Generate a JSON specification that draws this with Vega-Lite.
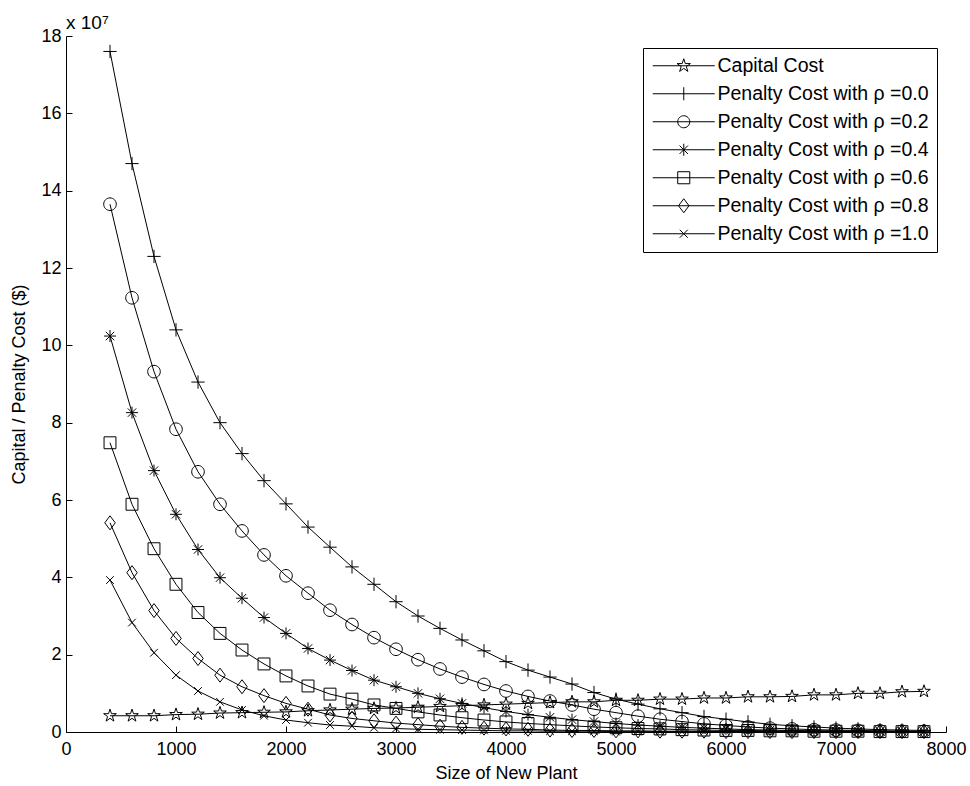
{
"$schema": "https://vega.github.io/schema/vega-lite/v6.json",
"width": 880, "height": 696,
"autosize": "none",
"padding": {"left": 66, "top": 36, "right": 24, "bottom": 54},
"background": "white",
"title": {"text": "x 10⁷", "anchor": "start", "frame": "group", "font": "Liberation Sans", "fontSize": 19, "fontWeight": "normal", "color": "black", "offset": 6, "dy": 12},
"config": {
  "view": {"stroke": null},
  "font": "Liberation Sans",
  "axis": {"domainColor": "black", "domainWidth": 1, "tickColor": "black", "tickWidth": 1, "tickSize": -6, "labelColor": "black", "labelFont": "Liberation Sans", "labelFontSize": 18, "titleFont": "Liberation Sans", "titleFontSize": 18, "titleFontWeight": "normal", "titleColor": "black", "grid": false, "labelFlush": false, "labelOverlap": false}
},
"datasets": {"d": [
{"series":"Capital Cost","size":400,"cost":0.42},{"series":"Capital Cost","size":600,"cost":0.42},{"series":"Capital Cost","size":800,"cost":0.42},{"series":"Capital Cost","size":1000,"cost":0.45},{"series":"Capital Cost","size":1200,"cost":0.46},{"series":"Capital Cost","size":1400,"cost":0.49},{"series":"Capital Cost","size":1600,"cost":0.5},{"series":"Capital Cost","size":1800,"cost":0.51},{"series":"Capital Cost","size":2000,"cost":0.52},{"series":"Capital Cost","size":2200,"cost":0.55},{"series":"Capital Cost","size":2400,"cost":0.57},{"series":"Capital Cost","size":2600,"cost":0.59},{"series":"Capital Cost","size":2800,"cost":0.61},{"series":"Capital Cost","size":3000,"cost":0.62},{"series":"Capital Cost","size":3200,"cost":0.64},{"series":"Capital Cost","size":3400,"cost":0.66},{"series":"Capital Cost","size":3600,"cost":0.68},{"series":"Capital Cost","size":3800,"cost":0.7},{"series":"Capital Cost","size":4000,"cost":0.72},{"series":"Capital Cost","size":4200,"cost":0.74},{"series":"Capital Cost","size":4400,"cost":0.76},{"series":"Capital Cost","size":4600,"cost":0.78},{"series":"Capital Cost","size":4800,"cost":0.78},{"series":"Capital Cost","size":5000,"cost":0.82},{"series":"Capital Cost","size":5200,"cost":0.82},{"series":"Capital Cost","size":5400,"cost":0.85},{"series":"Capital Cost","size":5600,"cost":0.85},{"series":"Capital Cost","size":5800,"cost":0.88},{"series":"Capital Cost","size":6000,"cost":0.88},{"series":"Capital Cost","size":6200,"cost":0.91},{"series":"Capital Cost","size":6400,"cost":0.91},{"series":"Capital Cost","size":6600,"cost":0.92},{"series":"Capital Cost","size":6800,"cost":0.96},{"series":"Capital Cost","size":7000,"cost":0.96},{"series":"Capital Cost","size":7200,"cost":1.0},{"series":"Capital Cost","size":7400,"cost":1.0},{"series":"Capital Cost","size":7600,"cost":1.04},{"series":"Capital Cost","size":7800,"cost":1.05},
{"series":"Penalty Cost with ρ =0.0","size":400,"cost":17.6},{"series":"Penalty Cost with ρ =0.0","size":600,"cost":14.7},{"series":"Penalty Cost with ρ =0.0","size":800,"cost":12.3},{"series":"Penalty Cost with ρ =0.0","size":1000,"cost":10.4},{"series":"Penalty Cost with ρ =0.0","size":1200,"cost":9.05},{"series":"Penalty Cost with ρ =0.0","size":1400,"cost":8.0},{"series":"Penalty Cost with ρ =0.0","size":1600,"cost":7.2},{"series":"Penalty Cost with ρ =0.0","size":1800,"cost":6.5},{"series":"Penalty Cost with ρ =0.0","size":2000,"cost":5.9},{"series":"Penalty Cost with ρ =0.0","size":2200,"cost":5.3},{"series":"Penalty Cost with ρ =0.0","size":2400,"cost":4.78},{"series":"Penalty Cost with ρ =0.0","size":2600,"cost":4.27},{"series":"Penalty Cost with ρ =0.0","size":2800,"cost":3.82},{"series":"Penalty Cost with ρ =0.0","size":3000,"cost":3.37},{"series":"Penalty Cost with ρ =0.0","size":3200,"cost":3.0},{"series":"Penalty Cost with ρ =0.0","size":3400,"cost":2.68},{"series":"Penalty Cost with ρ =0.0","size":3600,"cost":2.38},{"series":"Penalty Cost with ρ =0.0","size":3800,"cost":2.1},{"series":"Penalty Cost with ρ =0.0","size":4000,"cost":1.82},{"series":"Penalty Cost with ρ =0.0","size":4200,"cost":1.6},{"series":"Penalty Cost with ρ =0.0","size":4400,"cost":1.42},{"series":"Penalty Cost with ρ =0.0","size":4600,"cost":1.24},{"series":"Penalty Cost with ρ =0.0","size":4800,"cost":1.02},{"series":"Penalty Cost with ρ =0.0","size":5000,"cost":0.85},{"series":"Penalty Cost with ρ =0.0","size":5200,"cost":0.72},{"series":"Penalty Cost with ρ =0.0","size":5400,"cost":0.6},{"series":"Penalty Cost with ρ =0.0","size":5600,"cost":0.5},{"series":"Penalty Cost with ρ =0.0","size":5800,"cost":0.4},{"series":"Penalty Cost with ρ =0.0","size":6000,"cost":0.33},{"series":"Penalty Cost with ρ =0.0","size":6200,"cost":0.26},{"series":"Penalty Cost with ρ =0.0","size":6400,"cost":0.2},{"series":"Penalty Cost with ρ =0.0","size":6600,"cost":0.16},{"series":"Penalty Cost with ρ =0.0","size":6800,"cost":0.13},{"series":"Penalty Cost with ρ =0.0","size":7000,"cost":0.1},{"series":"Penalty Cost with ρ =0.0","size":7200,"cost":0.08},{"series":"Penalty Cost with ρ =0.0","size":7400,"cost":0.06},{"series":"Penalty Cost with ρ =0.0","size":7600,"cost":0.05},{"series":"Penalty Cost with ρ =0.0","size":7800,"cost":0.04},
{"series":"Penalty Cost with ρ =0.2","size":400,"cost":13.65},{"series":"Penalty Cost with ρ =0.2","size":600,"cost":11.23},{"series":"Penalty Cost with ρ =0.2","size":800,"cost":9.32},{"series":"Penalty Cost with ρ =0.2","size":1000,"cost":7.83},{"series":"Penalty Cost with ρ =0.2","size":1200,"cost":6.73},{"series":"Penalty Cost with ρ =0.2","size":1400,"cost":5.89},{"series":"Penalty Cost with ρ =0.2","size":1600,"cost":5.2},{"series":"Penalty Cost with ρ =0.2","size":1800,"cost":4.58},{"series":"Penalty Cost with ρ =0.2","size":2000,"cost":4.04},{"series":"Penalty Cost with ρ =0.2","size":2200,"cost":3.59},{"series":"Penalty Cost with ρ =0.2","size":2400,"cost":3.15},{"series":"Penalty Cost with ρ =0.2","size":2600,"cost":2.78},{"series":"Penalty Cost with ρ =0.2","size":2800,"cost":2.44},{"series":"Penalty Cost with ρ =0.2","size":3000,"cost":2.14},{"series":"Penalty Cost with ρ =0.2","size":3200,"cost":1.87},{"series":"Penalty Cost with ρ =0.2","size":3400,"cost":1.63},{"series":"Penalty Cost with ρ =0.2","size":3600,"cost":1.42},{"series":"Penalty Cost with ρ =0.2","size":3800,"cost":1.23},{"series":"Penalty Cost with ρ =0.2","size":4000,"cost":1.06},{"series":"Penalty Cost with ρ =0.2","size":4200,"cost":0.92},{"series":"Penalty Cost with ρ =0.2","size":4400,"cost":0.8},{"series":"Penalty Cost with ρ =0.2","size":4600,"cost":0.7},{"series":"Penalty Cost with ρ =0.2","size":4800,"cost":0.59},{"series":"Penalty Cost with ρ =0.2","size":5000,"cost":0.5},{"series":"Penalty Cost with ρ =0.2","size":5200,"cost":0.41},{"series":"Penalty Cost with ρ =0.2","size":5400,"cost":0.33},{"series":"Penalty Cost with ρ =0.2","size":5600,"cost":0.27},{"series":"Penalty Cost with ρ =0.2","size":5800,"cost":0.21},{"series":"Penalty Cost with ρ =0.2","size":6000,"cost":0.17},{"series":"Penalty Cost with ρ =0.2","size":6200,"cost":0.13},{"series":"Penalty Cost with ρ =0.2","size":6400,"cost":0.1},{"series":"Penalty Cost with ρ =0.2","size":6600,"cost":0.08},{"series":"Penalty Cost with ρ =0.2","size":6800,"cost":0.06},{"series":"Penalty Cost with ρ =0.2","size":7000,"cost":0.05},{"series":"Penalty Cost with ρ =0.2","size":7200,"cost":0.04},{"series":"Penalty Cost with ρ =0.2","size":7400,"cost":0.03},{"series":"Penalty Cost with ρ =0.2","size":7600,"cost":0.02},{"series":"Penalty Cost with ρ =0.2","size":7800,"cost":0.02},
{"series":"Penalty Cost with ρ =0.4","size":400,"cost":10.24},{"series":"Penalty Cost with ρ =0.4","size":600,"cost":8.26},{"series":"Penalty Cost with ρ =0.4","size":800,"cost":6.76},{"series":"Penalty Cost with ρ =0.4","size":1000,"cost":5.63},{"series":"Penalty Cost with ρ =0.4","size":1200,"cost":4.72},{"series":"Penalty Cost with ρ =0.4","size":1400,"cost":3.99},{"series":"Penalty Cost with ρ =0.4","size":1600,"cost":3.46},{"series":"Penalty Cost with ρ =0.4","size":1800,"cost":2.96},{"series":"Penalty Cost with ρ =0.4","size":2000,"cost":2.55},{"series":"Penalty Cost with ρ =0.4","size":2200,"cost":2.16},{"series":"Penalty Cost with ρ =0.4","size":2400,"cost":1.86},{"series":"Penalty Cost with ρ =0.4","size":2600,"cost":1.59},{"series":"Penalty Cost with ρ =0.4","size":2800,"cost":1.34},{"series":"Penalty Cost with ρ =0.4","size":3000,"cost":1.17},{"series":"Penalty Cost with ρ =0.4","size":3200,"cost":1.0},{"series":"Penalty Cost with ρ =0.4","size":3400,"cost":0.86},{"series":"Penalty Cost with ρ =0.4","size":3600,"cost":0.74},{"series":"Penalty Cost with ρ =0.4","size":3800,"cost":0.63},{"series":"Penalty Cost with ρ =0.4","size":4000,"cost":0.53},{"series":"Penalty Cost with ρ =0.4","size":4200,"cost":0.45},{"series":"Penalty Cost with ρ =0.4","size":4400,"cost":0.38},{"series":"Penalty Cost with ρ =0.4","size":4600,"cost":0.32},{"series":"Penalty Cost with ρ =0.4","size":4800,"cost":0.27},{"series":"Penalty Cost with ρ =0.4","size":5000,"cost":0.22},{"series":"Penalty Cost with ρ =0.4","size":5200,"cost":0.18},{"series":"Penalty Cost with ρ =0.4","size":5400,"cost":0.15},{"series":"Penalty Cost with ρ =0.4","size":5600,"cost":0.12},{"series":"Penalty Cost with ρ =0.4","size":5800,"cost":0.1},{"series":"Penalty Cost with ρ =0.4","size":6000,"cost":0.08},{"series":"Penalty Cost with ρ =0.4","size":6200,"cost":0.06},{"series":"Penalty Cost with ρ =0.4","size":6400,"cost":0.05},{"series":"Penalty Cost with ρ =0.4","size":6600,"cost":0.04},{"series":"Penalty Cost with ρ =0.4","size":6800,"cost":0.03},{"series":"Penalty Cost with ρ =0.4","size":7000,"cost":0.03},{"series":"Penalty Cost with ρ =0.4","size":7200,"cost":0.02},{"series":"Penalty Cost with ρ =0.4","size":7400,"cost":0.02},{"series":"Penalty Cost with ρ =0.4","size":7600,"cost":0.02},{"series":"Penalty Cost with ρ =0.4","size":7800,"cost":0.01},
{"series":"Penalty Cost with ρ =0.6","size":400,"cost":7.48},{"series":"Penalty Cost with ρ =0.6","size":600,"cost":5.89},{"series":"Penalty Cost with ρ =0.6","size":800,"cost":4.74},{"series":"Penalty Cost with ρ =0.6","size":1000,"cost":3.82},{"series":"Penalty Cost with ρ =0.6","size":1200,"cost":3.09},{"series":"Penalty Cost with ρ =0.6","size":1400,"cost":2.55},{"series":"Penalty Cost with ρ =0.6","size":1600,"cost":2.12},{"series":"Penalty Cost with ρ =0.6","size":1800,"cost":1.76},{"series":"Penalty Cost with ρ =0.6","size":2000,"cost":1.45},{"series":"Penalty Cost with ρ =0.6","size":2200,"cost":1.19},{"series":"Penalty Cost with ρ =0.6","size":2400,"cost":0.98},{"series":"Penalty Cost with ρ =0.6","size":2600,"cost":0.85},{"series":"Penalty Cost with ρ =0.6","size":2800,"cost":0.7},{"series":"Penalty Cost with ρ =0.6","size":3000,"cost":0.61},{"series":"Penalty Cost with ρ =0.6","size":3200,"cost":0.52},{"series":"Penalty Cost with ρ =0.6","size":3400,"cost":0.44},{"series":"Penalty Cost with ρ =0.6","size":3600,"cost":0.37},{"series":"Penalty Cost with ρ =0.6","size":3800,"cost":0.31},{"series":"Penalty Cost with ρ =0.6","size":4000,"cost":0.26},{"series":"Penalty Cost with ρ =0.6","size":4200,"cost":0.22},{"series":"Penalty Cost with ρ =0.6","size":4400,"cost":0.19},{"series":"Penalty Cost with ρ =0.6","size":4600,"cost":0.16},{"series":"Penalty Cost with ρ =0.6","size":4800,"cost":0.13},{"series":"Penalty Cost with ρ =0.6","size":5000,"cost":0.11},{"series":"Penalty Cost with ρ =0.6","size":5200,"cost":0.09},{"series":"Penalty Cost with ρ =0.6","size":5400,"cost":0.08},{"series":"Penalty Cost with ρ =0.6","size":5600,"cost":0.06},{"series":"Penalty Cost with ρ =0.6","size":5800,"cost":0.05},{"series":"Penalty Cost with ρ =0.6","size":6000,"cost":0.04},{"series":"Penalty Cost with ρ =0.6","size":6200,"cost":0.04},{"series":"Penalty Cost with ρ =0.6","size":6400,"cost":0.03},{"series":"Penalty Cost with ρ =0.6","size":6600,"cost":0.03},{"series":"Penalty Cost with ρ =0.6","size":6800,"cost":0.02},{"series":"Penalty Cost with ρ =0.6","size":7000,"cost":0.02},{"series":"Penalty Cost with ρ =0.6","size":7200,"cost":0.02},{"series":"Penalty Cost with ρ =0.6","size":7400,"cost":0.01},{"series":"Penalty Cost with ρ =0.6","size":7600,"cost":0.01},{"series":"Penalty Cost with ρ =0.6","size":7800,"cost":0.01},
{"series":"Penalty Cost with ρ =0.8","size":400,"cost":5.41},{"series":"Penalty Cost with ρ =0.8","size":600,"cost":4.12},{"series":"Penalty Cost with ρ =0.8","size":800,"cost":3.14},{"series":"Penalty Cost with ρ =0.8","size":1000,"cost":2.42},{"series":"Penalty Cost with ρ =0.8","size":1200,"cost":1.9},{"series":"Penalty Cost with ρ =0.8","size":1400,"cost":1.47},{"series":"Penalty Cost with ρ =0.8","size":1600,"cost":1.17},{"series":"Penalty Cost with ρ =0.8","size":1800,"cost":0.94},{"series":"Penalty Cost with ρ =0.8","size":2000,"cost":0.74},{"series":"Penalty Cost with ρ =0.8","size":2200,"cost":0.59},{"series":"Penalty Cost with ρ =0.8","size":2400,"cost":0.44},{"series":"Penalty Cost with ρ =0.8","size":2600,"cost":0.35},{"series":"Penalty Cost with ρ =0.8","size":2800,"cost":0.29},{"series":"Penalty Cost with ρ =0.8","size":3000,"cost":0.23},{"series":"Penalty Cost with ρ =0.8","size":3200,"cost":0.19},{"series":"Penalty Cost with ρ =0.8","size":3400,"cost":0.15},{"series":"Penalty Cost with ρ =0.8","size":3600,"cost":0.12},{"series":"Penalty Cost with ρ =0.8","size":3800,"cost":0.1},{"series":"Penalty Cost with ρ =0.8","size":4000,"cost":0.08},{"series":"Penalty Cost with ρ =0.8","size":4200,"cost":0.07},{"series":"Penalty Cost with ρ =0.8","size":4400,"cost":0.05},{"series":"Penalty Cost with ρ =0.8","size":4600,"cost":0.04},{"series":"Penalty Cost with ρ =0.8","size":4800,"cost":0.04},{"series":"Penalty Cost with ρ =0.8","size":5000,"cost":0.03},{"series":"Penalty Cost with ρ =0.8","size":5200,"cost":0.03},{"series":"Penalty Cost with ρ =0.8","size":5400,"cost":0.02},{"series":"Penalty Cost with ρ =0.8","size":5600,"cost":0.02},{"series":"Penalty Cost with ρ =0.8","size":5800,"cost":0.02},{"series":"Penalty Cost with ρ =0.8","size":6000,"cost":0.01},{"series":"Penalty Cost with ρ =0.8","size":6200,"cost":0.01},{"series":"Penalty Cost with ρ =0.8","size":6400,"cost":0.01},{"series":"Penalty Cost with ρ =0.8","size":6600,"cost":0.01},{"series":"Penalty Cost with ρ =0.8","size":6800,"cost":0.01},{"series":"Penalty Cost with ρ =0.8","size":7000,"cost":0.01},{"series":"Penalty Cost with ρ =0.8","size":7200,"cost":0.01},{"series":"Penalty Cost with ρ =0.8","size":7400,"cost":0.01},{"series":"Penalty Cost with ρ =0.8","size":7600,"cost":0.01},{"series":"Penalty Cost with ρ =0.8","size":7800,"cost":0.01},
{"series":"Penalty Cost with ρ =1.0","size":400,"cost":3.93},{"series":"Penalty Cost with ρ =1.0","size":600,"cost":2.83},{"series":"Penalty Cost with ρ =1.0","size":800,"cost":2.05},{"series":"Penalty Cost with ρ =1.0","size":1000,"cost":1.47},{"series":"Penalty Cost with ρ =1.0","size":1200,"cost":1.06},{"series":"Penalty Cost with ρ =1.0","size":1400,"cost":0.78},{"series":"Penalty Cost with ρ =1.0","size":1600,"cost":0.57},{"series":"Penalty Cost with ρ =1.0","size":1800,"cost":0.42},{"series":"Penalty Cost with ρ =1.0","size":2000,"cost":0.31},{"series":"Penalty Cost with ρ =1.0","size":2200,"cost":0.24},{"series":"Penalty Cost with ρ =1.0","size":2400,"cost":0.18},{"series":"Penalty Cost with ρ =1.0","size":2600,"cost":0.15},{"series":"Penalty Cost with ρ =1.0","size":2800,"cost":0.11},{"series":"Penalty Cost with ρ =1.0","size":3000,"cost":0.09},{"series":"Penalty Cost with ρ =1.0","size":3200,"cost":0.07},{"series":"Penalty Cost with ρ =1.0","size":3400,"cost":0.06},{"series":"Penalty Cost with ρ =1.0","size":3600,"cost":0.05},{"series":"Penalty Cost with ρ =1.0","size":3800,"cost":0.04},{"series":"Penalty Cost with ρ =1.0","size":4000,"cost":0.03},{"series":"Penalty Cost with ρ =1.0","size":4200,"cost":0.03},{"series":"Penalty Cost with ρ =1.0","size":4400,"cost":0.02},{"series":"Penalty Cost with ρ =1.0","size":4600,"cost":0.02},{"series":"Penalty Cost with ρ =1.0","size":4800,"cost":0.02},{"series":"Penalty Cost with ρ =1.0","size":5000,"cost":0.01},{"series":"Penalty Cost with ρ =1.0","size":5200,"cost":0.01},{"series":"Penalty Cost with ρ =1.0","size":5400,"cost":0.01},{"series":"Penalty Cost with ρ =1.0","size":5600,"cost":0.01},{"series":"Penalty Cost with ρ =1.0","size":5800,"cost":0.01},{"series":"Penalty Cost with ρ =1.0","size":6000,"cost":0.01},{"series":"Penalty Cost with ρ =1.0","size":6200,"cost":0.01},{"series":"Penalty Cost with ρ =1.0","size":6400,"cost":0.01},{"series":"Penalty Cost with ρ =1.0","size":6600,"cost":0.01},{"series":"Penalty Cost with ρ =1.0","size":6800,"cost":0.01},{"series":"Penalty Cost with ρ =1.0","size":7000,"cost":0.01},{"series":"Penalty Cost with ρ =1.0","size":7200,"cost":0.01},{"series":"Penalty Cost with ρ =1.0","size":7400,"cost":0.01},{"series":"Penalty Cost with ρ =1.0","size":7600,"cost":0.01},{"series":"Penalty Cost with ρ =1.0","size":7800,"cost":0.01}
]},
"data": {"name": "d"},
"encoding": {
  "x": {"field": "size", "type": "quantitative", "scale": {"domain": [0, 8000], "nice": false, "zero": false},
        "axis": {"values": [0,1000,2000,3000,4000,5000,6000,7000,8000], "format": "d", "title": "Size of New Plant", "labelPadding": 14, "titlePadding": 6}},
  "y": {"field": "cost", "type": "quantitative", "scale": {"domain": [0, 18], "nice": false},
        "axis": {"values": [0,2,4,6,8,10,12,14,16,18], "title": "Capital / Penalty Cost ($)", "labelPadding": 11, "titlePadding": 12}}
},
"resolve": {"scale": {"shape": "independent"}},
"layer": [
  {"mark": {"type": "line", "color": "black", "strokeWidth": 1},
   "encoding": {"detail": {"field": "series", "type": "nominal"}}},
  {"mark": {"type": "point", "filled": false, "color": "black", "strokeWidth": 1, "size": 196, "opacity": 1},
   "encoding": {"shape": {"field": "series", "type": "nominal", "legend": null,
     "scale": {"domain": ["Capital Cost","Penalty Cost with ρ =0.0","Penalty Cost with ρ =0.2","Penalty Cost with ρ =0.4","Penalty Cost with ρ =0.6","Penalty Cost with ρ =0.8","Penalty Cost with ρ =1.0"],
               "range": ["M0,-0.95L0.213,-0.294L0.904,-0.294L0.345,0.112L0.558,0.769L0,0.363L-0.558,0.769L-0.345,0.112L-0.904,-0.294L-0.213,-0.294Z",
                         "M-0.95,0H0.95M0,-0.95V0.95",
                         "M0.9,0A0.9,0.9 0 1,1 -0.9,0A0.9,0.9 0 1,1 0.9,0Z",
                         "M-0.85,0H0.85M0,-0.85V0.85M-0.6,-0.6L0.6,0.6M-0.6,0.6L0.6,-0.6",
                         "M-0.85,-0.85H0.85V0.85H-0.85Z",
                         "M0,-1L0.75,0L0,1L-0.75,0Z",
                         "M-0.55,-0.55L0.55,0.55M-0.55,0.55L0.55,-0.55"]}}}},
  {"mark": {"type": "point", "filled": false, "color": "black", "strokeWidth": 1, "size": 0},
   "encoding": {"shape": {"field": "series", "type": "nominal",
     "scale": {"domain": ["Capital Cost","Penalty Cost with ρ =0.0","Penalty Cost with ρ =0.2","Penalty Cost with ρ =0.4","Penalty Cost with ρ =0.6","Penalty Cost with ρ =0.8","Penalty Cost with ρ =1.0"],
               "range": ["M-4.43,0H4.43M0,-1L0.225,-0.309L0.951,-0.309L0.363,0.118L0.588,0.809L0,0.382L-0.588,0.809L-0.363,0.118L-0.951,-0.309L-0.225,-0.309Z",
                         "M-4.43,0H4.43M0,-0.93V0.93",
                         "M-4.43,0H4.43M0.86,0A0.86,0.86 0 1,1 -0.86,0A0.86,0.86 0 1,1 0.86,0",
                         "M-4.43,0H4.43M0,-0.86V0.86M-0.6,-0.6L0.6,0.6M-0.6,0.6L0.6,-0.6",
                         "M-4.43,0H4.43M-0.86,-0.86H0.86V0.86H-0.86Z",
                         "M-4.43,0H4.43M0,-1L0.75,0L0,1L-0.75,0Z",
                         "M-4.43,0H4.43M-0.57,-0.57L0.57,0.57M-0.57,0.57L0.57,-0.57"]},
     "legend": {"title": null, "orient": "none", "legendX": 577, "legendY": 12, "strokeColor": "black", "fillColor": "white", "padding": 8,
       "symbolSize": 196, "symbolOffset": 23, "symbolStrokeWidth": 1, "symbolStrokeColor": "black", "symbolFillColor": "transparent", "symbolOpacity": 1,
       "labelFont": "Liberation Sans", "labelFontSize": 19.5, "labelColor": "black", "labelOffset": 24, "labelLimit": 0, "rowPadding": 7}}}}
]
}
